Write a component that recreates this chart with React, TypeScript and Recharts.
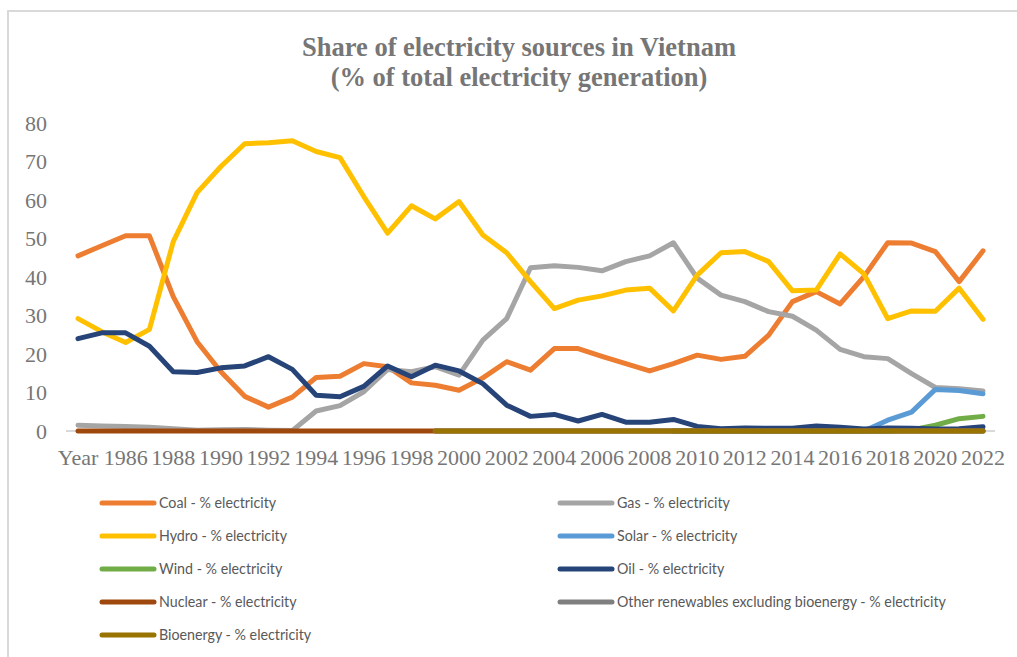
import { Line, LineChart, XAxis, YAxis, ReferenceLine } from "recharts";

const years = [
  "Year", "1985", "1986", "1987", "1988", "1989", "1990", "1991", "1992", "1993",
  "1994", "1995", "1996", "1997", "1998", "1999", "2000", "2001", "2002", "2003",
  "2004", "2005", "2006", "2007", "2008", "2009", "2010", "2011", "2012", "2013",
  "2014", "2015", "2016", "2017", "2018", "2019", "2020", "2021", "2022",
];

const coal = [
  45.5, 48.1, 50.7, 50.7, 34.9, 23.2, 15.4, 9.0, 6.2, 8.8,
  13.9, 14.2, 17.5, 16.7, 12.5, 11.9, 10.6, 13.8, 18.0, 15.8,
  21.4, 21.4, 19.4, 17.5, 15.6, 17.5, 19.7, 18.6, 19.4, 24.9,
  33.6, 36.2, 33.0, 40.1, 48.9, 48.8, 46.6, 38.8, 46.8,
];
const gas = [
  1.5, 1.3, 1.2, 1.0, 0.6, 0.2, 0.3, 0.4, 0.2, 0.1,
  5.2, 6.6, 10.2, 16.0, 15.4, 16.7, 14.5, 23.6, 29.2, 42.4,
  42.9, 42.5, 41.6, 44.0, 45.5, 48.9, 39.7, 35.3, 33.6, 31.0,
  29.8, 26.2, 21.2, 19.3, 18.8, 14.9, 11.3, 11.0, 10.4,
];
const hydro = [
  29.2, 25.8, 23.0, 26.4, 49.2, 61.9, 68.7, 74.6, 74.9, 75.4,
  72.6, 71.0, 60.9, 51.4, 58.5, 55.1, 59.6, 50.9, 46.3, 38.8,
  31.8, 34.0, 35.1, 36.6, 37.1, 31.2, 40.5, 46.3, 46.6, 44.0,
  36.4, 36.6, 46.0, 40.8, 29.2, 31.2, 31.1, 37.1, 29.0,
];
const solar = [
  null, null, null, null, null, null, null, null, null, null,
  null, null, null, null, null, null, null, null, null, null,
  null, null, null, null, null, 0, 0, 0, 0, 0,
  0, 0, 0, 0, 2.8, 4.9, 10.8, 10.5, 9.7,
];
const wind = [
  null, null, null, null, null, null, null, null, null, null,
  null, null, null, null, null, null, null, null, null, null,
  null, null, null, null, null, 0, 0, 0, 0, 0,
  0, 0, 0, 0, 0, 0.3, 1.5, 3.2, 3.8,
];
const oil = [
  24.0, 25.5, 25.5, 22.0, 15.4, 15.2, 16.4, 16.9, 19.3, 16.0,
  9.3, 8.9, 11.6, 16.9, 14.1, 17.1, 15.6, 12.3, 6.7, 3.8,
  4.3, 2.6, 4.3, 2.3, 2.3, 3.0, 1.2, 0.6, 0.8, 0.7,
  0.7, 1.3, 1.0, 0.5, 0.8, 0.7, 0.5, 0.6, 1.1,
];
const nuclear = [
  0, 0, 0, 0, 0, 0, 0, 0, 0, 0,
  0, 0, 0, 0, 0, 0, 0, 0, 0, 0,
  0, 0, 0, 0, 0, 0, 0, 0, 0, 0,
  0, 0, 0, 0, 0, 0, 0, 0, 0,
];
const otherRenewables = [
  null, null, null, null, null, null, null, null, null, null,
  null, null, null, null, null, 0, 0, 0, 0, 0,
  0, 0, 0, 0, 0, 0, 0, 0, 0, 0,
  0, 0, 0, 0, 0, 0, 0, 0, 0,
];
const bioenergy = [
  null, null, null, null, null, null, null, null, null, null,
  null, null, null, null, null, 0, 0, 0, 0, 0,
  0, 0, 0, 0, 0, 0, 0, 0, 0, 0,
  0, 0, 0, 0, 0, 0, 0, 0, 0,
];

const series = [
  { key: "coal", name: "Coal - % electricity", color: "#ED7D31", values: coal },
  { key: "gas", name: "Gas - % electricity", color: "#A5A5A5", values: gas },
  { key: "hydro", name: "Hydro - % electricity", color: "#FFC000", values: hydro },
  { key: "solar", name: "Solar - % electricity", color: "#5B9BD5", values: solar },
  { key: "wind", name: "Wind - % electricity", color: "#70AD47", values: wind },
  { key: "oil", name: "Oil - % electricity", color: "#264478", values: oil },
  { key: "nuclear", name: "Nuclear - % electricity", color: "#9E480E", values: nuclear },
  { key: "other", name: "Other renewables excluding bioenergy - % electricity", color: "#7F7F7F", values: otherRenewables },
  { key: "bio", name: "Bioenergy - % electricity", color: "#997300", values: bioenergy },
];

const yTicks = [0, 10, 20, 30, 40, 50, 60, 70, 80];

const data = years.map((year, i) => {
  const row: Record<string, string | number | null> = { year };
  series.forEach((s) => {
    row[s.key] = s.values[i];
  });
  return row;
});

const serif = "'Liberation Serif', 'Times New Roman', serif";
const gray = "#767676";

export default function App() {
  return (
    <div style={{ position: "absolute", left: 0, top: 0, width: 1017, height: 657, background: "#fff", overflow: "hidden" }}>
      <div
        style={{
          position: "absolute",
          left: 7,
          top: 10,
          width: 1100,
          height: 700,
          borderLeft: "2px solid #d9d9d9",
          borderTop: "2px solid #d9d9d9",
        }}
      />
      <LineChart
        width={1017}
        height={657}
        data={data}
        margin={{ top: 123, right: 22, bottom: 196, left: 10 }}
        style={{ position: "absolute", left: 0, top: 0 }}
      >
        <XAxis
          dataKey="year"
          interval={1}
          padding={{ left: 12, right: 12 }}
          axisLine={false}
          tickLine={false}
          tickMargin={12}
          tick={{ fontFamily: serif, fontSize: 22, fill: gray }}
        />
        <YAxis
          domain={[0, 80]}
          ticks={yTicks}
          width={56}
          axisLine={false}
          tickLine={false}
          tickSize={0}
          tickMargin={19}
          tick={{ fontFamily: serif, fontSize: 22, fill: gray }}
        />
        <ReferenceLine y={0} stroke="#d9d9d9" strokeWidth={2} />
        {series.map((s) => (
          <Line
            key={s.key}
            dataKey={s.key}
            name={s.name}
            stroke={s.color}
            strokeWidth={5}
            strokeLinejoin="round"
            strokeLinecap="round"
            dot={false}
            activeDot={false}
            isAnimationActive={false}
          />
        ))}
      </LineChart>
      <svg width={1017} height={657} style={{ position: "absolute", left: 0, top: 0, pointerEvents: "none" }}>
        <text x={519} y={56} textAnchor="middle" fontFamily={serif} fontWeight="bold" fontSize={26.5} fill={gray}>
          Share of electricity sources in Vietnam
        </text>
        <text x={519} y={86} textAnchor="middle" fontFamily={serif} fontWeight="bold" fontSize={26.5} fill={gray}>
          (% of total electricity generation)
        </text>
        {series.map((s, i) => {
          const col = i % 2;
          const row = Math.floor(i / 2);
          const lx = col === 0 ? 102 : 560;
          const y = 503 + row * 33;
          return (
            <g key={s.key}>
              <line x1={lx} x2={lx + 52} y1={y} y2={y} stroke={s.color} strokeWidth={5} strokeLinecap="round" />
              <text
                transform={`translate(${lx + 57},${y + 5}) scale(0.92,1)`}
                fontFamily="Lato, sans-serif"
                fontSize={15.5}
                fill="#595959"
              >
                {s.name}
              </text>
            </g>
          );
        })}
      </svg>
    </div>
  );
}
